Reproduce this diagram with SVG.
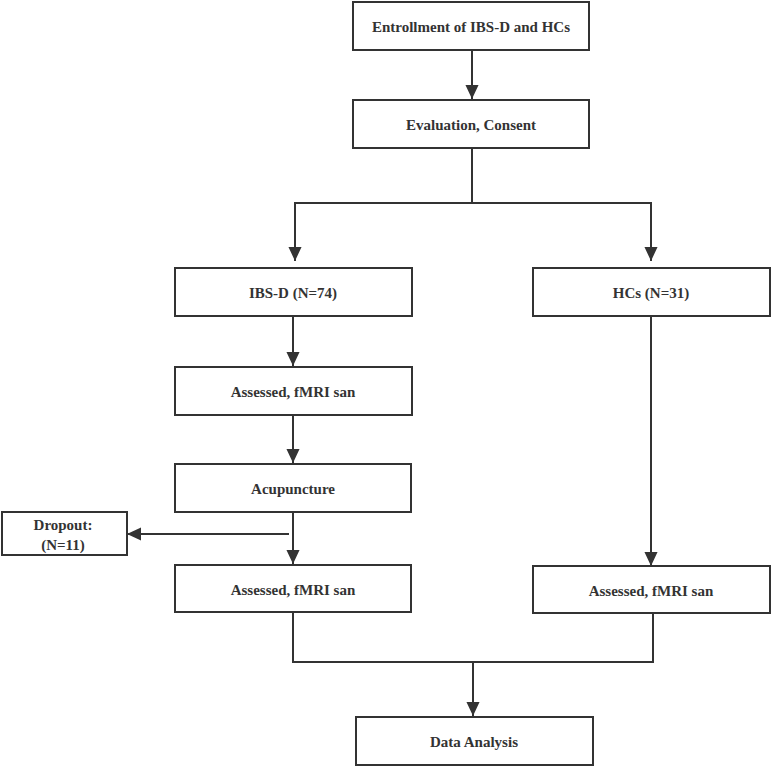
<svg xmlns="http://www.w3.org/2000/svg" width="772" height="767" viewBox="0 0 772 767">
<style>
.box{fill:#fff;stroke:#333;stroke-width:2}
.t{font-family:"Liberation Serif",serif;font-weight:bold;font-size:15px;fill:#333;text-anchor:middle}
.c{fill:none;stroke:#333;stroke-width:2}
</style>
<defs>
<marker id="ah" markerWidth="14" markerHeight="16" refX="15" refY="7" orient="auto" markerUnits="userSpaceOnUse" viewBox="0 0 15 14">
<path d="M0,0 L15,7 L0,14 Z" fill="#333"/>
</marker>
</defs>
<rect width="772" height="767" fill="#fff"/>
<g id="connectors">
<line class="c" x1="472" y1="50" x2="472" y2="99" marker-end="url(#ah)"/>
<line class="c" x1="472" y1="148" x2="472" y2="203"/>
<polyline class="c" points="295,261 295,203 651,203 651,261" marker-end="url(#ah)"/>
<line class="c" x1="295" y1="203" x2="295" y2="261" marker-end="url(#ah)"/>
<line class="c" x1="293" y1="317" x2="293" y2="366" marker-end="url(#ah)"/>
<line class="c" x1="293" y1="415" x2="293" y2="463" marker-end="url(#ah)"/>
<line class="c" x1="293" y1="513" x2="293" y2="564" marker-end="url(#ah)"/>
<line class="c" x1="289" y1="534" x2="127" y2="534" marker-end="url(#ah)"/>
<line class="c" x1="651" y1="317" x2="651" y2="566" marker-end="url(#ah)"/>
<polyline class="c" points="293,613 293,662 653,662 653,614"/>
<line class="c" x1="473" y1="662" x2="473" y2="716" marker-end="url(#ah)"/>
</g>
<g id="n1"><rect class="box" x="353" y="2" width="236" height="48"/><text class="t" x="471" y="32">Entrollment of IBS-D and HCs</text></g>
<g id="n2"><rect class="box" x="353" y="100" width="236" height="48"/><text class="t" x="471" y="130">Evaluation, Consent</text></g>
<g id="n3"><rect class="box" x="175" y="268" width="237" height="48"/><text class="t" x="293" y="298">IBS-D (N=74)</text></g>
<g id="n4"><rect class="box" x="533" y="268" width="237" height="48"/><text class="t" x="651" y="298">HCs (N=31)</text></g>
<g id="n5"><rect class="box" x="175" y="367" width="237" height="48"/><text class="t" x="293" y="397">Assessed, fMRI san</text></g>
<g id="n6"><rect class="box" x="175" y="464" width="236" height="48"/><text class="t" x="293" y="494">Acupuncture</text></g>
<g id="n7"><rect class="box" x="2" y="512" width="125" height="43"/><text class="t" x="63" y="530">Dropout:</text><text class="t" x="63" y="550">(N=11)</text></g>
<g id="n8"><rect class="box" x="175" y="565" width="236" height="47"/><text class="t" x="293" y="595">Assessed, fMRI san</text></g>
<g id="n9"><rect class="box" x="533" y="566" width="237" height="47"/><text class="t" x="651" y="596">Assessed, fMRI san</text></g>
<g id="n10"><rect class="box" x="356" y="717" width="237" height="48"/><text class="t" x="474" y="747">Data Analysis</text></g>
</svg>
